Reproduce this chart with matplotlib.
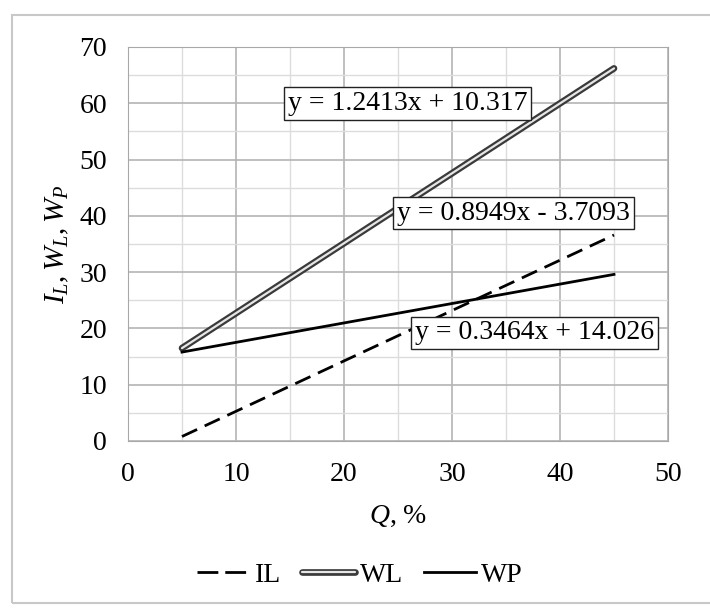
import matplotlib
matplotlib.use('Agg')
import matplotlib.pyplot as plt
import matplotlib.patheffects as pe
from matplotlib.patches import Rectangle
from matplotlib.ticker import MultipleLocator

# data
q = [5, 45]
il = [0.8, 36.6]
wl = [16.5, 66.2]
wp = [15.8, 29.6]

eq_text = ['y = 1.2413x + 10.317', 'y = 0.8949x - 3.7093', 'y = 0.3464x + 14.026']
eq_pos = [(25.9, 60.0), (35.7, 40.5), (37.6, 19.2)]

plt.rcParams['font.family'] = ['Liberation Serif', 'DejaVu Serif']
plt.rcParams['mathtext.fontset'] = 'custom'
plt.rcParams['mathtext.rm'] = 'Liberation Serif'
plt.rcParams['mathtext.it'] = 'Liberation Serif:italic'
fs = 20

fig = plt.figure(figsize=(7.1, 6.08), dpi=100)
ax = fig.add_axes([128/710, 1-441/608, 540/710, 394/608])

# frame around the figure
fig.patches.append(Rectangle((12/710, 5/608), 0.99, 588/608, transform=fig.transFigure,
                             fill=False, edgecolor='#c8c8c8', lw=1.5))

ax.plot(q, il, color='black', lw=2, dashes=(6, 3), label='IL')
ax.plot(q, wl, color='#e6e6e6', lw=1.6, solid_capstyle='round', label='WL',
        path_effects=[pe.Stroke(linewidth=4.8, foreground='#3a3a3a', capstyle='round'), pe.Normal()])
ax.plot(q, wp, color='black', lw=2, label='WP')

for t, (x, y) in zip(eq_text, eq_pos):
    ax.text(x, y, t, fontsize=fs, ha='center', va='center',
            bbox=dict(boxstyle='square,pad=0.14', facecolor='white', edgecolor='#222222', lw=1))

ax.set_xlim(0, 50)
ax.set_ylim(0, 70)
ax.xaxis.set_major_locator(MultipleLocator(10))
ax.yaxis.set_major_locator(MultipleLocator(10))
ax.xaxis.set_minor_locator(MultipleLocator(5))
ax.yaxis.set_minor_locator(MultipleLocator(5))
ax.grid(True, which='major', color='#b4b4b4', lw=1.2)
ax.grid(True, which='minor', color='#dcdcdc', lw=1.0)
ax.set_axisbelow(True)
ax.tick_params(which='both', length=0, labelsize=fs, pad=15)
for s in ax.spines.values():
    s.set_color('#a8a8a8')

ax.set_xlabel(r'$Q$, %', fontsize=fs, labelpad=12)
ax.set_ylabel(r'$I_L, W_L, W_P$', fontsize=21, labelpad=6)

leg = fig.legend(loc='center', bbox_to_anchor=(360/710, 1-575/608), ncol=3, frameon=False,
                 fontsize=fs, handlelength=1.9, handletextpad=0.18, columnspacing=0.75)
# two whole dashes in the legend key
leg.get_lines()[0].set_dashes((7.5, 2.5))

fig.savefig('out.png', dpi=100)
